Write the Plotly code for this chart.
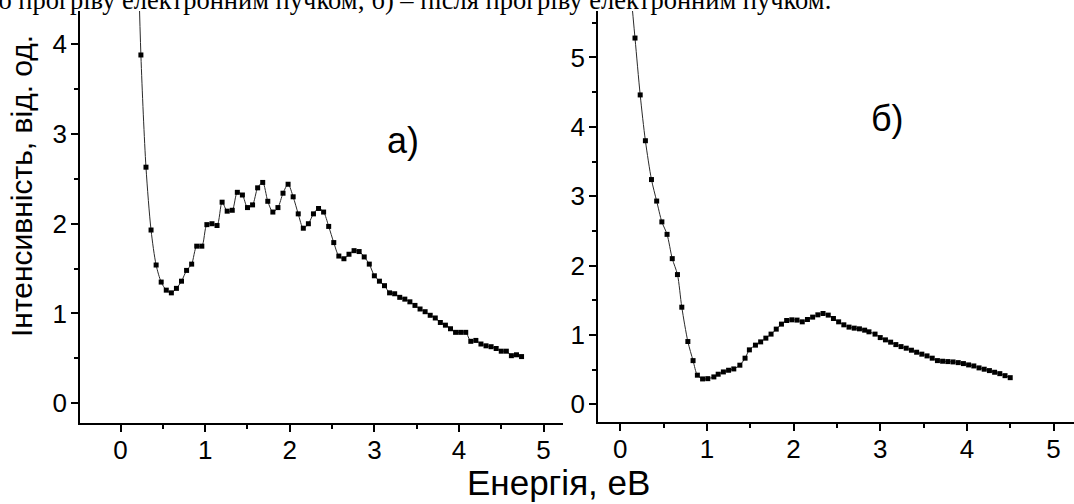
import plotly.graph_objects as go

# ---------------- data ----------------
energy_a = [0.18, 0.24, 0.30, 0.36, 0.42, 0.48, 0.54, 0.60, 0.66, 0.72, 0.78, 0.84,
            0.90, 0.96, 1.02, 1.08, 1.14, 1.20, 1.26, 1.32, 1.38, 1.44, 1.50, 1.56,
            1.62, 1.68, 1.74, 1.80, 1.86, 1.92, 1.98, 2.04, 2.10, 2.16, 2.22, 2.28,
            2.34, 2.40, 2.46, 2.52, 2.58, 2.64, 2.70, 2.76, 2.82, 2.88, 2.94, 3.00,
            3.06, 3.12, 3.18, 3.24, 3.30, 3.36, 3.42, 3.48, 3.54, 3.60, 3.66, 3.72,
            3.78, 3.84, 3.90, 3.96, 4.02, 4.08, 4.14, 4.20, 4.26, 4.32, 4.38, 4.44,
            4.50, 4.56, 4.62, 4.68, 4.74]
intensity_a = [6.0, 3.88, 2.63, 1.93, 1.54, 1.35, 1.26, 1.23, 1.28, 1.36, 1.48, 1.55,
               1.75, 1.75, 1.99, 2.00, 1.98, 2.24, 2.14, 2.15, 2.35, 2.32, 2.18, 2.21,
               2.40, 2.46, 2.25, 2.13, 2.18, 2.34, 2.44, 2.30, 2.11, 1.95, 2.00, 2.11,
               2.17, 2.13, 1.97, 1.79, 1.64, 1.61, 1.66, 1.70, 1.69, 1.63, 1.55, 1.42,
               1.36, 1.31, 1.23, 1.22, 1.18, 1.16, 1.13, 1.09, 1.05, 1.02, 0.98, 0.95,
               0.90, 0.87, 0.83, 0.79, 0.79, 0.79, 0.69, 0.70, 0.66, 0.64, 0.63, 0.61,
               0.58, 0.58, 0.53, 0.54, 0.52]

energy_b = [0.11, 0.17, 0.23, 0.29, 0.36, 0.42, 0.48, 0.54, 0.60, 0.66, 0.71, 0.78,
            0.84, 0.89, 0.95, 1.01, 1.08, 1.13, 1.19, 1.25, 1.31, 1.38, 1.44, 1.49,
            1.56, 1.62, 1.68, 1.74, 1.80, 1.86, 1.92, 1.98, 2.04, 2.10, 2.16, 2.22,
            2.28, 2.34, 2.40, 2.46, 2.52, 2.58, 2.64, 2.70, 2.76, 2.82, 2.87, 2.94,
            3.00, 3.06, 3.12, 3.18, 3.24, 3.30, 3.36, 3.42, 3.48, 3.54, 3.60, 3.66,
            3.72, 3.78, 3.84, 3.90, 3.96, 4.02, 4.08, 4.14, 4.20, 4.26, 4.32, 4.38,
            4.44, 4.50]
intensity_b = [6.1, 5.28, 4.46, 3.80, 3.24, 2.93, 2.63, 2.45, 2.10, 1.87, 1.40, 0.905,
               0.63, 0.42, 0.366, 0.37, 0.395, 0.434, 0.467, 0.491, 0.51, 0.564, 0.665, 0.785,
               0.853, 0.90, 0.954, 1.012, 1.084, 1.156, 1.208, 1.218, 1.214, 1.189, 1.223, 1.257,
               1.290, 1.309, 1.286, 1.237, 1.189, 1.146, 1.113, 1.098, 1.088, 1.069, 1.045, 1.012,
               0.962, 0.929, 0.896, 0.861, 0.832, 0.809, 0.780, 0.751, 0.723, 0.698, 0.665, 0.630,
               0.621, 0.616, 0.611, 0.601, 0.587, 0.568, 0.553, 0.525, 0.506, 0.486, 0.462, 0.442,
               0.413, 0.384]

tick_vals = [0, 1, 2, 3, 4, 5]
y_title = "Інтенсивність, від. од."
x_title = "Енергія, еВ"
label_a = "а)"
label_b = "б)"
caption = "до прогріву електронним пучком; б) – після прогріву електронним пучком."

# ---------------- figure ----------------
W, H = 1074, 504
SANS = "Liberation Sans, Arial, sans-serif"
SERIF = "Liberation Serif, Times New Roman, serif"


def px_x(p):
    return p / W


def px_y(p):
    return 1 - p / H


fig = go.Figure()

trace_style = dict(
    mode="lines+markers",
    line=dict(color="#2a2a2a", width=1, shape="spline", smoothing=0.8),
    marker=dict(symbol="square", size=5, color="black", line=dict(width=0)),
    showlegend=False,
    hoverinfo="x+y",
)
fig.add_trace(go.Scatter(x=energy_a, y=intensity_a, xaxis="x", yaxis="y", **trace_style))
fig.add_trace(go.Scatter(x=energy_b, y=intensity_b, xaxis="x2", yaxis="y2", **trace_style))

axis_common = dict(
    showline=True, linecolor="black", linewidth=1.5,
    ticks="outside", ticklen=7, tickwidth=1.5, tickcolor="black",
    showgrid=False, zeroline=False, automargin=False,
    tickfont=dict(family=SANS, size=26, color="black"),
    tickvals=tick_vals,
    minor=dict(ticks="outside", ticklen=4, tickwidth=1.5, tickcolor="black",
               dtick=0.5, tick0=0, showgrid=False),
)

fig.update_layout(
    width=W, height=H,
    template="none",
    margin=dict(l=0, r=0, t=0, b=0, pad=0),
    paper_bgcolor="white", plot_bgcolor="white",
    showlegend=False,
    xaxis=dict(domain=[px_x(80), px_x(563)], range=[-0.48, 5.23], anchor="y",
               ticklabelstandoff=-4, **axis_common),
    yaxis=dict(domain=[px_y(423), px_y(11)], range=[-0.22, 4.37], anchor="x",
               ticklabelstandoff=-1, **axis_common),
    xaxis2=dict(domain=[px_x(598), 1.0], range=[-0.257, 5.236], anchor="y2",
                ticklabelstandoff=-4, **axis_common),
    yaxis2=dict(domain=[px_y(422), px_y(11)], range=[-0.255, 5.67], anchor="x2",
                ticklabelstandoff=-1, **axis_common),
)

annotations = [
    dict(text=x_title, x=px_x(558), y=px_y(482), xref="paper", yref="paper",
         xanchor="center", yanchor="middle", showarrow=False,
         font=dict(family=SANS, size=35, color="black")),
    dict(text=y_title, x=px_x(21), y=px_y(186), xref="paper", yref="paper",
         xanchor="center", yanchor="middle", showarrow=False, textangle=-90,
         font=dict(family=SANS, size=30, color="black")),
    dict(text=label_a, x=px_x(403), y=px_y(140), xref="paper", yref="paper",
         xanchor="center", yanchor="middle", showarrow=False,
         font=dict(family=SANS, size=36, color="black")),
    dict(text=label_b, x=px_x(887), y=px_y(118), xref="paper", yref="paper",
         xanchor="center", yanchor="middle", showarrow=False,
         font=dict(family=SANS, size=36, color="black")),
    dict(text=caption, x=px_x(833), y=px_y(0), xref="paper", yref="paper",
         xanchor="right", yanchor="middle", showarrow=False,
         font=dict(family=SERIF, size=26.5, color="black")),
]
fig.update_layout(annotations=annotations)

fig.write_html("out.html")
